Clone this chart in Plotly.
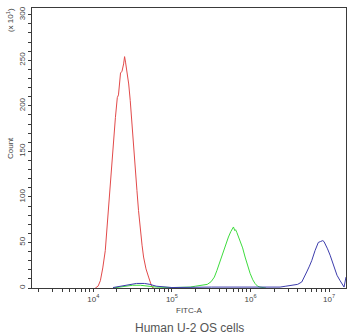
import plotly.graph_objects as go

# FITC-A intensity (linear units) and event counts per channel, one series per sample
red_x = [1.06e4, 1.15e4, 1.23e4, 1.32e4, 1.42e4, 1.53e4, 1.64e4, 1.78e4, 1.91e4, 2.02e4,
         2.09e4, 2.22e4, 2.32e4, 2.43e4, 2.50e4, 2.57e4, 2.68e4, 2.82e4, 2.95e4, 3.09e4,
         3.25e4, 3.43e4, 3.59e4, 3.76e4, 3.95e4, 4.17e4, 4.36e4, 4.68e4, 5.05e4, 5.31e4,
         5.57e4, 5.89e4]
red_y = [0, 2, 8, 22, 41, 78, 118, 155, 187, 209,
         212, 236, 238, 246, 254, 248, 239, 224, 206, 180,
         151, 128, 107, 85, 63, 47, 34, 21, 12, 5,
         1, 0]

green_x = [1.78e4, 2.5e4, 3.16e4, 3.98e4, 5.0e4, 6.3e4, 1.0e5, 1.71e5, 2.0e5, 2.4e5,
           2.82e5, 3.16e5, 3.47e5, 3.73e5, 4.07e5, 4.53e5, 4.90e5, 5.24e5, 5.62e5, 6.07e5,
           6.31e5, 6.46e5, 6.70e5, 7.38e5, 7.94e5, 8.53e5, 9.12e5, 9.89e5, 1.07e6, 1.14e6,
           1.23e6, 1.32e6, 1.58e6]
green_y = [0, 2, 3, 3, 2, 1, 0.5, 1, 2, 3,
           4, 7, 12, 19, 29, 41, 49, 56, 62, 67,
           63, 64, 61, 52, 44, 34, 25, 16, 9, 5,
           2, 1, 0]

blue_x = [1.78e4, 2.24e4, 2.82e4, 3.55e4, 4.47e4, 5.25e4, 6.3e4, 7.9e4, 1.0e5, 3.2e5,
          1.6e6, 2.38e6, 2.82e6, 3.51e6, 3.98e6, 4.49e6, 4.79e6, 5.19e6, 5.62e6, 6.01e6,
          6.62e6, 7.29e6, 7.76e6, 8.30e6, 8.61e6, 8.87e6, 9.55e6, 1.03e7, 1.10e7, 1.19e7,
          1.26e7, 1.37e7, 1.48e7, 1.55e7, 1.64e7]
blue_y = [0.5, 2, 4, 5, 5, 4, 2, 1, 0.5, 1,
          1, 1, 2, 3, 4, 6.6, 11, 17.6, 24, 30,
          41, 50, 51, 52, 51, 49, 43, 36, 28, 19.5,
          14, 8.5, 3, 1, 12]

x_decades = [4, 5, 6, 7]
y_labels = [0, 50, 100, 150, 200, 250, 300]

AXIS = "#3a3a3a"
TXT = "#444444"
FONT = "Liberation Sans, Arial, sans-serif"

# log-axis tick positions: decades labelled, 2..9 multiples unlabelled
xt_vals, xt_text = [], []
for d in range(3, 8):
    for m in range(1, 10):
        v = m * 10 ** d
        if 10 ** 3.22 <= v <= 10 ** 7.215:
            xt_vals.append(v)
            xt_text.append(f"10<sup>{d}</sup>" if m == 1 and d in x_decades else "")

yt_vals = list(range(0, 301, 10))
yt_text = [str(v) if v in y_labels else "" for v in yt_vals]

fig = go.Figure()
for xs, ys, col in [(red_x, red_y, "#e24a4a"),
                    (green_x, green_y, "#3ddc3d"),
                    (blue_x, blue_y, "#3c3cac")]:
    fig.add_trace(go.Scatter(x=xs, y=ys, mode="lines",
                             line=dict(color=col, width=1), hoverinfo="skip"))

fig.update_layout(
    width=350, height=335,
    margin=dict(l=32, r=4, t=8, b=47),
    paper_bgcolor="white", plot_bgcolor="white",
    showlegend=False,
    font=dict(family=FONT, color=TXT, size=8),
    xaxis=dict(type="log", range=[3.22, 7.215], showgrid=False, zeroline=False,
               showline=True, linecolor=AXIS, linewidth=1, mirror=True,
               tickmode="array", tickvals=xt_vals, ticktext=xt_text,
               ticks="outside", ticklen=3, tickcolor=AXIS, tickwidth=1,
               tickfont=dict(size=8, color=TXT)),
    yaxis=dict(range=[0, 307.4], showgrid=False, zeroline=False,
               showline=True, linecolor=AXIS, linewidth=1, mirror=True,
               tickmode="array", tickvals=yt_vals, ticktext=yt_text,
               ticks="outside", ticklen=3, tickcolor=AXIS, tickwidth=1,
               tickangle=-90, tickfont=dict(size=8, color=TXT)),
    annotations=[
        dict(text="Count", xref="paper", yref="paper", x=0, y=0.5, xshift=-22,
             xanchor="center", yanchor="middle",
             textangle=-90, showarrow=False, font=dict(size=8, color=TXT)),
        dict(text="(x 10<sup>1</sup>)", xref="paper", yref="paper", x=0, y=0.957,
             xshift=-22, xanchor="center", yanchor="middle",
             textangle=-90, showarrow=False, font=dict(size=8, color=TXT)),
        dict(text="FITC-A", xref="paper", yref="paper", x=0.5, y=-0.079,
             xanchor="center", yanchor="middle",
             showarrow=False, font=dict(size=8, color=TXT)),
        dict(text="Human U-2 OS cells", xref="paper", yref="paper", x=0.5, y=-0.143,
             xanchor="center", yanchor="middle",
             showarrow=False, font=dict(size=12, color="#555555")),
    ],
)

fig.write_html("out.html")
